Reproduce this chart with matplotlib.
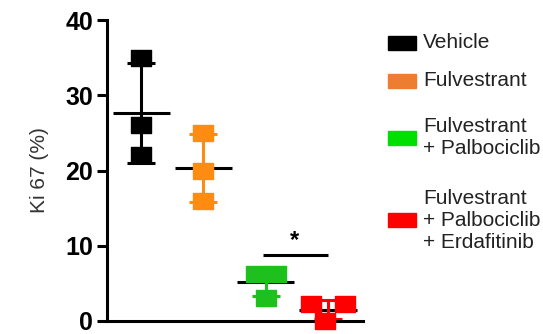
import numpy as np
import matplotlib
matplotlib.use("Agg")
import matplotlib.pyplot as plt
from matplotlib.patches import Rectangle

plt.rcParams['font.family'] = ['Liberation Sans', 'DejaVu Sans']

# Ki67 values per treatment group (3 tumours each)
groups = ["Vehicle", "Fulvestrant", "Fulvestrant\n+ Palbociclib",
          "Fulvestrant\n+ Palbociclib\n+ Erdafitinib"]
vehicle = [35.0, 26.0, 22.0]
fulvestrant = [25.0, 20.0, 16.0]
fulv_palbo = [6.2, 6.2, 3.0]
fulv_palbo_erda = [2.2, 2.2, 0.0]
# horizontal jitter of the points inside each column
jitter = [[0, 0, 0], [0, 0, 0], [-0.16, 0.16, 0], [-0.27, 0.27, -0.05]]

point_colors = ["#000000", "#ff8c12", "#1ec01e", "#ff0000"]
legend_colors = ["#000000", "#ed7d31", "#00e000", "#ff0000"]
yticks = [0, 10, 20, 30, 40]

data = [vehicle, fulvestrant, fulv_palbo, fulv_palbo_erda]

# slightly wide square marker
box = [(-1.2, -1), (1.2, -1), (1.2, 1), (-1.2, 1), (-1.2, -1)]

fig = plt.figure(figsize=(5.43, 3.34), dpi=100)
ax = fig.add_axes([0.197, 0.039, 0.471, 0.901])

for i, vals in enumerate(data):
    vals = np.array(vals)
    m = vals.mean()
    sd = vals.std(ddof=1)
    c = point_colors[i]
    # mean line
    ax.plot([i - 0.46, i + 0.46], [m, m], color="black", lw=2.2, zorder=2,
            solid_capstyle="butt")
    # SD error bar
    ax.errorbar(i, m, yerr=sd, fmt="none", ecolor=c, elinewidth=2.2,
                capsize=10, capthick=2.2, zorder=2)
    xs = i + np.array(jitter[i])
    ax.plot(xs, vals, marker=box, ls="none", color=c, ms=14, zorder=3,
            clip_on=False)

# significance bar between the two combination groups
ax.plot([1.95, 3.0], [8.8, 8.8], color="black", lw=2.2, solid_capstyle="butt")
ax.text(2.47, 9.2, "*", ha="center", va="bottom", fontsize=17,
        fontweight="bold")

ax.set_xlim(-0.55, 3.56)
ax.set_ylim(0, 40)
ax.set_yticks(yticks)
ax.set_xticks([])
ax.tick_params(axis="y", length=7, width=2.2, labelsize=18, pad=3)
for lab in ax.get_yticklabels():
    lab.set_fontweight("bold")
ax.spines["top"].set_visible(False)
ax.spines["right"].set_visible(False)
ax.spines["left"].set_linewidth(2.2)
ax.spines["bottom"].set_linewidth(2.2)
ax.set_ylabel("Ki 67 (%)", fontsize=15, labelpad=12, color="#333333")

# legend drawn by hand in figure coordinates
W, H = 543.0, 334.0
patch_y = [43, 81, 138, 220]
for lab, col, py in zip(groups, legend_colors, patch_y):
    fig.patches.append(Rectangle((388 / W, 1 - (py + 7) / H), 28 / W, 14 / H,
                                 transform=fig.transFigure, color=col))
    fig.text(423 / W, 1 - py / H, lab, ha="left", va="center", fontsize=15,
             color="#222222", linespacing=1.2)

fig.savefig("out.png", dpi=100)
